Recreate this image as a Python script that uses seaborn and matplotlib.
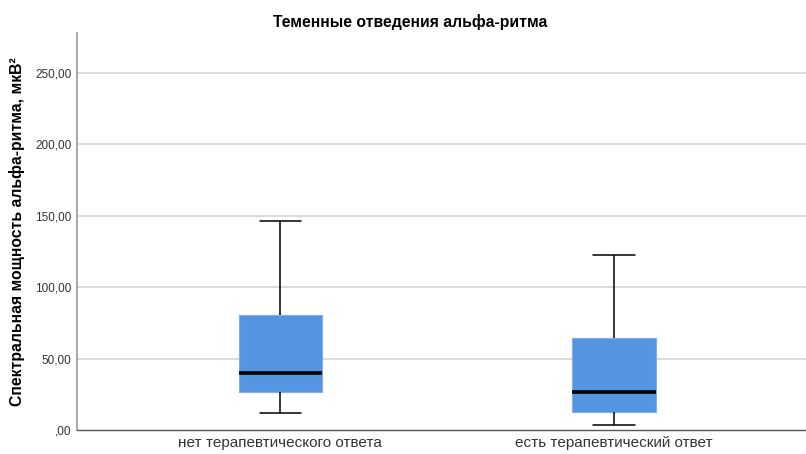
import numpy as np
import pandas as pd
import matplotlib
matplotlib.use("Agg")
import matplotlib.pyplot as plt
import seaborn as sns
from matplotlib.ticker import FuncFormatter

# Five-number summaries per group: lower whisker, Q1, median, Q3, upper whisker
groups = ["нет терапевтического ответа", "есть терапевтический ответ"]
no_response = [11.7, 26.4, 40.0, 80.6, 146.2]
response = [3.3, 12.8, 26.4, 64.7, 122.2]

title = "Теменные отведения альфа-ритма"
ylabel = "Спектральная мощность альфа-ритма, мкВ²"
yticks = [0, 50, 100, 150, 200, 250]

df = pd.DataFrame({
    "group": [groups[0]] * len(no_response) + [groups[1]] * len(response),
    "value": no_response + response,
})

sns.set_theme(style="white")
plt.rcParams["font.family"] = ["Liberation Sans", "DejaVu Sans"]

fig = plt.figure(figsize=(8.06, 4.54), dpi=100)
ax = fig.add_axes([77 / 806, 1 - 430 / 454, 1 - 77 / 806, (430 - 33) / 454])

sns.boxplot(
    data=df, x="group", y="value", ax=ax, width=0.25,
    color="#5594e0", saturation=1, showfliers=False,
    boxprops=dict(edgecolor="#7fb0ea", linewidth=0.8),
    medianprops=dict(color="black", linewidth=2.6),
    whiskerprops=dict(color="black", linewidth=1.1),
    capprops=dict(color="black", linewidth=1.1),
    capwidths=0.125,
)

ax.set_xlim(-0.61, 1.576)
ax.set_ylim(0, 278)
ax.set_yticks(yticks)

def fmt(v, pos):
    s = f"{v:.2f}".replace(".", ",")
    return s[1:] if s.startswith("0,") else s

ax.yaxis.set_major_formatter(FuncFormatter(fmt))
for y in yticks[1:]:
    ax.axhline(y, color="#d4d4d4", linewidth=1.2, zorder=0)

ax.tick_params(axis="both", length=0)
ax.tick_params(axis="y", labelsize=8.5, colors="#333333", pad=4)
ax.tick_params(axis="x", labelsize=11, colors="#333333", pad=4)

for s in ["top", "right"]:
    ax.spines[s].set_visible(False)
ax.spines["left"].set_color("#9a9a9a")
ax.spines["left"].set_linewidth(1.2)
ax.spines["bottom"].set_color("#555555")
ax.spines["bottom"].set_linewidth(1.0)

ax.set_xlabel("")
ax.set_ylabel(ylabel, fontsize=11.3, fontweight="bold", color="black")
ax.yaxis.set_label_coords((25 - 77) / 729, 0.5)

fig.text(410 / 806, 1 - 22 / 454, title, ha="center", va="center",
         fontsize=11.3, fontweight="bold", color="black")

fig.savefig("out.png", dpi=100)
